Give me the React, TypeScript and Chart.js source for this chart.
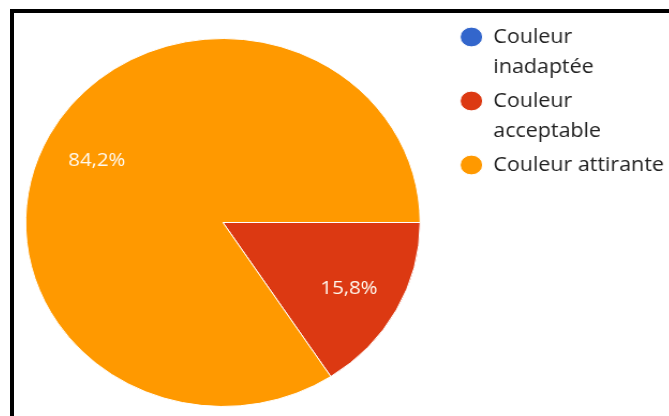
import React, { useEffect, useRef } from 'react';
import { Chart, registerables } from 'chart.js';

Chart.register(...registerables);

// ---- data ----
const categories: (string | string[])[] = [
  ['Couleur', 'inadaptée'],
  ['Couleur', 'acceptable'],
  'Couleur attirante',
];
const responses: number[] = [0, 3, 16];
const sliceColors: string[] = ['#3366CC', '#DC3912', '#FF9900'];

// ---- geometry (canvas drawn at CANVAS_W then stretched horizontally like the reference) ----
const STRETCH = 669 / 624;
const CANVAS_W = 640;
const CANVAS_H = 440;
const CANVAS_SHIFT = -10.5;
const FONT = '"Open Sans", "DejaVu Sans", sans-serif';

const sliceLabels = {
  id: 'sliceLabels',
  afterDatasetsDraw(chart: any) {
    const ctx = chart.ctx as CanvasRenderingContext2D;
    const meta = chart.getDatasetMeta(0);
    const values = chart.data.datasets[0].data as number[];
    const total = values.reduce((a, b) => a + b, 0);
    ctx.save();
    ctx.font = `19px ${FONT}`;
    ctx.fillStyle = '#fffaf0';
    ctx.textAlign = 'center';
    ctx.textBaseline = 'alphabetic';
    meta.data.forEach((arc: any, i: number) => {
      const v = values[i];
      if (!v) return;
      const { x, y, startAngle, endAngle, outerRadius } = arc.getProps(
        ['x', 'y', 'startAngle', 'endAngle', 'outerRadius'],
        true
      );
      const mid = (startAngle + endAngle) / 2;
      const r = outerRadius * 0.727;
      const txt = ((v / total) * 100).toFixed(1).replace('.', ',') + '%';
      ctx.fillText(txt, x + Math.cos(mid) * r, y + Math.sin(mid) * r + 7.5);
    });
    ctx.restore();
  },
};

export default function App() {
  const canvasRef = useRef<HTMLCanvasElement | null>(null);

  useEffect(() => {
    if (!canvasRef.current) return;
    const chart = new Chart(canvasRef.current, {
      type: 'pie',
      data: {
        labels: categories as any,
        datasets: [
          {
            data: responses,
            backgroundColor: sliceColors,
            borderColor: '#ffffff',
            borderWidth: 1,
            radius: 184,
            clip: false,
          } as any,
        ],
      },
      options: {
        responsive: false,
        animation: false,
        rotation: 90,
        layout: { padding: { top: 23, bottom: 18, left: 0, right: 5 } },
        plugins: {
          legend: {
            position: 'right',
            align: 'start',
            maxWidth: 200.4,
            labels: {
              usePointStyle: true,
              pointStyle: 'circle',
              pointStyleWidth: 21,
              boxHeight: 14,
              padding: 4,
              color: '#222222',
              font: { family: FONT, size: 20, lineHeight: 1.5 },
            },
          } as any,
          tooltip: { enabled: false },
        },
      },
      plugins: [sliceLabels],
    });
    let alive = true;
    if ((document as any).fonts) {
      (document as any).fonts
        .load(`20px "Open Sans"`)
        .then(() => {
          if (alive) chart.update();
        })
        .catch(() => {});
    }
    return () => {
      alive = false;
      chart.destroy();
    };
  }, []);

  return (
    <div
      style={{
        position: 'fixed',
        left: 0,
        top: 0,
        width: 669,
        height: 416,
        overflow: 'hidden',
        background: '#ffffff',
      }}
    >
      <div
        style={{
          position: 'absolute',
          left: 10,
          top: 9,
          width: 700,
          height: 460,
          border: '4px solid #000000',
          boxSizing: 'border-box',
        }}
      />
      <canvas
        ref={canvasRef}
        width={CANVAS_W}
        height={CANVAS_H}
        style={{
          position: 'absolute',
          left: CANVAS_SHIFT,
          top: 0,
          width: CANVAS_W * STRETCH + 'px',
          height: CANVAS_H + 'px',
          display: 'block',
        }}
      />
    </div>
  );
}
